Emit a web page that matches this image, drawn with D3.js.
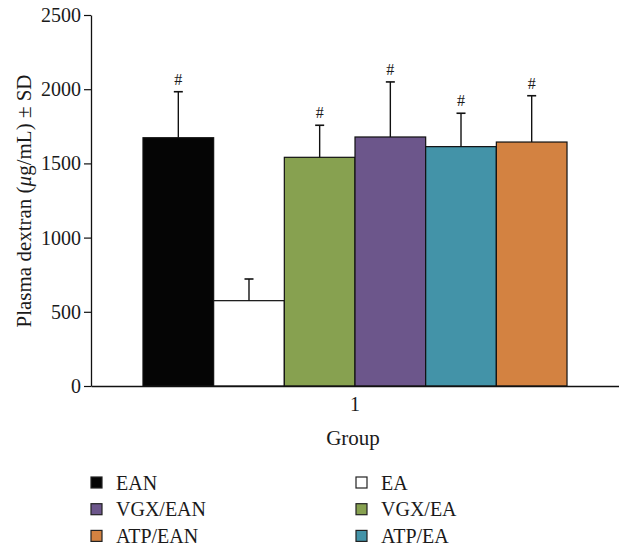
<!DOCTYPE html>
<html><head><meta charset="utf-8">
<script src="https://cdn.jsdelivr.net/npm/d3@7"></script>
<style>body{margin:0;background:#fff}svg{display:block}text{font-family:"Liberation Serif","Times New Roman",serif;fill:#1a1a1a}</style>
</head><body>
<svg id="c" width="619" height="547"></svg>
<script>
const groups = ["1"];
const series = ["EAN","EA","VGX/EA","VGX/EAN","ATP/EA","ATP/EAN"];
const means = [1673, 575, 1541, 1678, 1613, 1644];
const sds = [310, 146, 216, 371, 225, 312];
const marks = ["#","","#","#","#","#"];
const colors = ["#050505","#ffffff","#87a150","#6c568b","#4393a8","#d38241"];
const yTicks = [0,500,1000,1500,2000,2500];
const legendOrder = ["EAN","EA","VGX/EAN","VGX/EA","ATP/EAN","ATP/EA"];

const svg = d3.select("#c");
const L = 91, R = 619, T = 15, B = 386;
const y = d3.scaleLinear().domain([0,2500]).range([B,T]);
const x0 = d3.scaleBand().domain(groups).range([L,R]).paddingOuter(0.1226).paddingInner(0);
const x1 = d3.scaleBand().domain(series).range([0,x0.bandwidth()]).padding(0);
const color = d3.scaleOrdinal().domain(series).range(colors);

// y axis
const ya = svg.append("g").attr("transform",`translate(${L},0)`)
  .call(d3.axisLeft(y).tickValues(yTicks).tickFormat(d3.format("d")).tickSize(7).tickPadding(3).tickSizeOuter(0));
ya.select(".domain").attr("stroke","#111").attr("stroke-width",1.3);
ya.selectAll(".tick line").attr("stroke","#111").attr("stroke-width",1.2);
ya.selectAll(".tick text").attr("font-size",20).attr("font-family","Liberation Serif, serif").attr("fill","#1a1a1a");

// bars
const data = series.map((s,i)=>({s,m:means[i],sd:sds[i],mk:marks[i]}));
const g = svg.append("g").attr("transform",`translate(${x0("1")},0)`);
g.selectAll("rect").data(data).join("rect")
  .attr("x",d=>x1(d.s)).attr("width",x1.bandwidth())
  .attr("y",d=>y(d.m)).attr("height",d=>y(0)-y(d.m))
  .attr("fill",d=>color(d.s)).attr("stroke","#111").attr("stroke-width",1.2);
// error bars
g.selectAll("line.err").data(data).join("line").attr("class","err")
  .attr("x1",d=>x1(d.s)+x1.bandwidth()/2).attr("x2",d=>x1(d.s)+x1.bandwidth()/2)
  .attr("y1",d=>y(d.m)).attr("y2",d=>y(d.m+d.sd)).attr("stroke","#111").attr("stroke-width",1.4);
g.selectAll("line.cap").data(data).join("line").attr("class","cap")
  .attr("x1",d=>x1(d.s)+x1.bandwidth()/2-4.5).attr("x2",d=>x1(d.s)+x1.bandwidth()/2+4.5)
  .attr("y1",d=>y(d.m+d.sd)).attr("y2",d=>y(d.m+d.sd)).attr("stroke","#111").attr("stroke-width",1.6);
g.selectAll("text.mk").data(data).join("text").attr("class","mk")
  .attr("x",d=>x1(d.s)+x1.bandwidth()/2).attr("y",d=>y(d.m+d.sd)-7)
  .attr("text-anchor","middle").attr("font-size",16).text(d=>d.mk);

// x axis
const xa = svg.append("g").attr("transform",`translate(0,${B})`)
  .call(d3.axisBottom(x0).tickSize(0).tickPadding(11));
xa.select(".domain").attr("stroke","#111").attr("stroke-width",1.3);
xa.selectAll(".tick text").attr("font-size",20).attr("font-family","Liberation Serif, serif").attr("fill","#1a1a1a");

svg.append("text").attr("x",353).attr("y",445).attr("text-anchor","middle").attr("font-size",21).text("Group");
const yl = svg.append("text").attr("transform","translate(24,201) rotate(-90)").attr("text-anchor","middle")
  .attr("dominant-baseline","central").attr("font-size",21);
yl.append("tspan").text("Plasma dextran (");
yl.append("tspan").attr("font-style","italic").text("\u03bc");
yl.append("tspan").text("g/mL) \u00b1 SD");

// legend
const lg = svg.append("g");
legendOrder.forEach((s,i)=>{
  const col = i%2, row = Math.floor(i/2);
  const lx = col===0?91:356, ly = 482.5 + row*26.7;
  lg.append("rect").attr("x",lx).attr("y",ly-5.5).attr("width",11).attr("height",11)
    .attr("fill",color(s)).attr("stroke","#222").attr("stroke-width",1.2);
  lg.append("text").attr("x",lx+25).attr("y",ly).attr("dominant-baseline","central")
    .attr("font-size",20).text(s);
});
</script>
</body></html>
